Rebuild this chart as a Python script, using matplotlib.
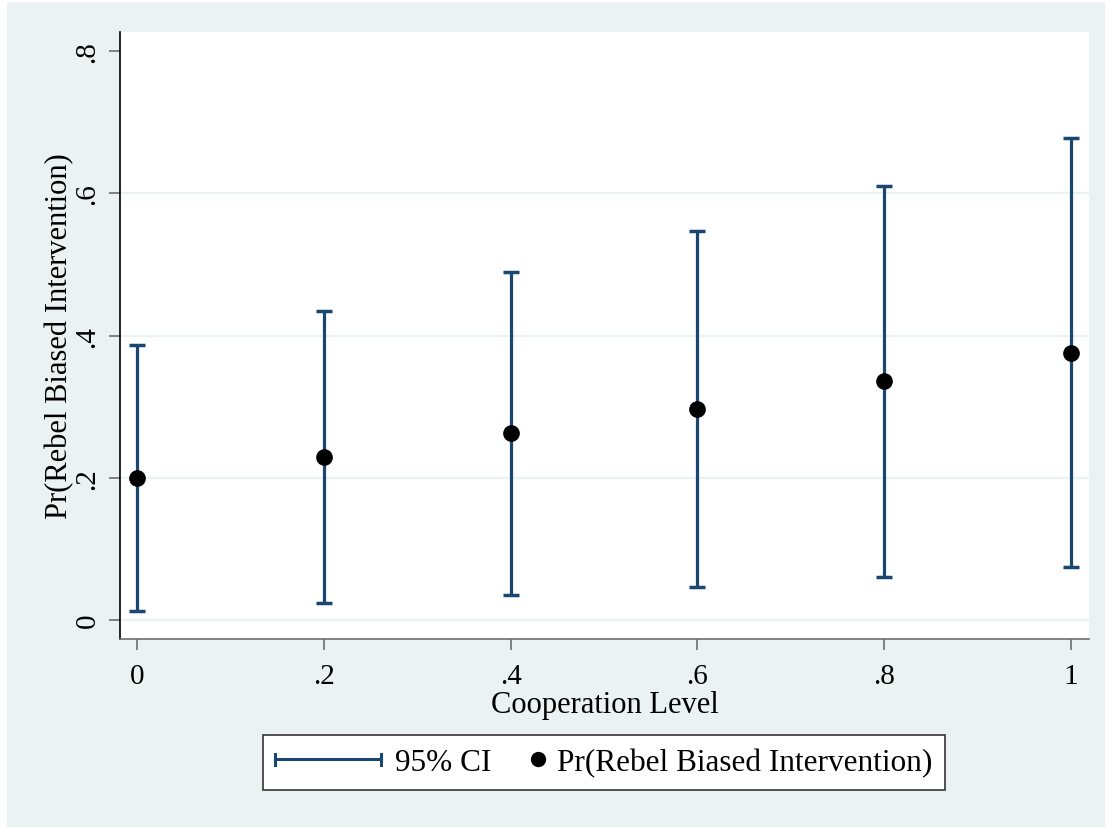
import matplotlib
matplotlib.use("Agg")
import matplotlib.pyplot as plt
from matplotlib.patches import Rectangle
from matplotlib.lines import Line2D
from matplotlib.legend_handler import HandlerBase

# ---- data ----
coop = [0.0, 0.2, 0.4, 0.6, 0.8, 1.0]
prob = [0.200, 0.229, 0.263, 0.297, 0.336, 0.375]
ci_low = [0.012, 0.024, 0.035, 0.046, 0.060, 0.075]
ci_high = [0.387, 0.434, 0.489, 0.547, 0.610, 0.678]
xticks = [0, 0.2, 0.4, 0.6, 0.8, 1.0]
xticklabels = ["0", ".2", ".4", ".6", ".8", "1"]
yticks = [0, 0.2, 0.4, 0.6, 0.8]
yticklabels = ["0", ".2", ".4", ".6", ".8"]
xlabel = "Cooperation Level"
ylabel = "Pr(Rebel Biased Intervention)"
legend_labels = ["95% CI", "Pr(Rebel Biased Intervention)"]

BG = "#EAF2F3"
NAVY = "#1A476F"
plt.rcParams["font.family"] = ["Liberation Serif", "DejaVu Serif"]

fig = plt.figure(figsize=(11.12, 8.29), dpi=100, facecolor="white")
W, H = 1112, 829
fig.patches.append(Rectangle((7 / W, 1 - 828 / H), (1105 - 7) / W, (828 - 3) / H,
                             transform=fig.transFigure, facecolor=BG, edgecolor="none", zorder=-10))

ax = fig.add_axes([120 / W, 1 - 640 / H, (1089 - 120) / W, (640 - 33) / H])
ax.set_zorder(1)
ax.set_facecolor("white")

for yv in yticks[:-1]:
    ax.axhline(yv, color=BG, lw=1.6, zorder=1)

yerr = [[p - l for p, l in zip(prob, ci_low)], [h - p for p, h in zip(prob, ci_high)]]
ax.errorbar(coop, prob, yerr=yerr, fmt="none", ecolor=NAVY, elinewidth=2.3,
            capsize=5.6, capthick=2.5, zorder=2)
ax.plot(coop, prob, "o", color="black", markersize=11, zorder=3)

ax.set_xlim(-0.0182, 1.0193)
ax.set_ylim(-0.0267, 0.8269)
ax.set_xticks(xticks)
ax.set_xticklabels(xticklabels)
ax.set_yticks(yticks)
ax.set_yticklabels(yticklabels, rotation=90, va="center")
ax.tick_params(axis="both", direction="out", length=8, width=1.2, color="#6E6E6E",
               labelsize=21, labelcolor="black")
ax.tick_params(axis="x", pad=9)
ax.tick_params(axis="y", pad=6)

for s in ["top", "right"]:
    ax.spines[s].set_visible(False)
ax.spines["left"].set_color("black")
ax.spines["left"].set_linewidth(1.2)
ax.spines["bottom"].set_color("#6E6E6E")
ax.spines["bottom"].set_linewidth(1.2)

ax.set_xlabel(xlabel, fontsize=22, labelpad=1)
ax.set_ylabel(ylabel, fontsize=22, va="center")
ax.yaxis.set_label_coords((60 - 120) / 969, 0.5)


class CIHandler(HandlerBase):
    def create_artists(self, legend, orig, xd, yd, width, height, fontsize, trans):
        y = height / 2 - yd
        x0, x1 = -xd, -xd + width
        h = height * 0.5
        lines = [
            Line2D([x0, x1], [y, y], color=NAVY, lw=2.2),
            Line2D([x0, x0], [y - h / 2, y + h / 2], color=NAVY, lw=2.2),
            Line2D([x1, x1], [y - h / 2, y + h / 2], color=NAVY, lw=2.2),
        ]
        for l in lines:
            l.set_transform(trans)
        return lines


class DotHandler(HandlerBase):
    def create_artists(self, legend, orig, xd, yd, width, height, fontsize, trans):
        y = height / 2 - yd
        x = -xd + width - 4
        m = Line2D([x], [y], marker="o", color="black", markersize=10, linestyle="none")
        m.set_transform(trans)
        return [m]


h_ci = Line2D([], [])
h_dot = Line2D([], [], marker="o")
leg = fig.legend([h_ci, h_dot], legend_labels, loc="center",
                 bbox_to_anchor=(604 / W, 1 - 763.5 / H), ncol=2, fontsize=22.5,
                 handler_map={h_ci: CIHandler(), h_dot: DotHandler()},
                 handlelength=3.4, handletextpad=0.45, columnspacing=-1.75,
                 borderpad=0.4, frameon=True, fancybox=False, framealpha=1)
leg.get_frame().set_edgecolor("#333333")
leg.get_frame().set_linewidth(1.2)
leg.get_frame().set_facecolor("white")

fig.savefig("out.png", dpi=100, facecolor="white")
